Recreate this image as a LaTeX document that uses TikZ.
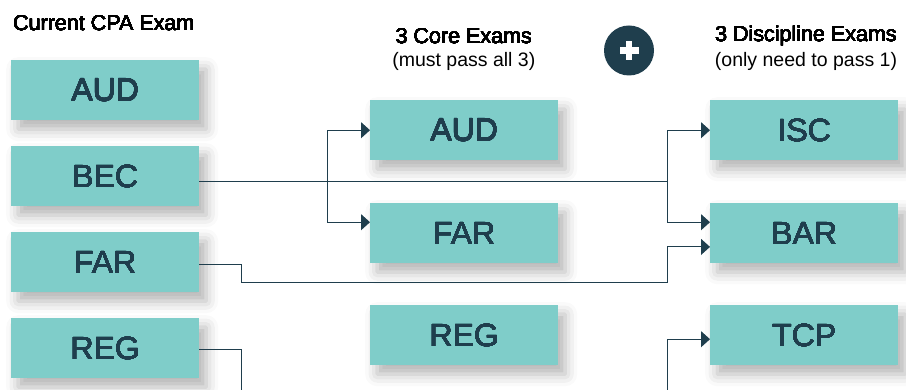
\documentclass[tikz,border=0pt]{standalone}
\usepackage{fontspec}
\setmainfont{Liberation Sans}
\usepackage[copies]{contour}
\contournumber{24}
\usetikzlibrary{arrows.meta,shadows.blur}
\definecolor{tealbox}{HTML}{7FCDC9}
\definecolor{ink}{HTML}{1F3E4D}
\newcommand{\boxlbl}[1]{\contourlength{0.12pt}\contour{ink}{#1}}
\newcommand{\headlbl}[1]{\contourlength{0.08pt}\contour{black}{#1}}
\begin{document}
\begin{tikzpicture}[x=1pt,y=-1pt,
  exambox/.style={fill=tealbox, minimum width=188pt, minimum height=60pt, inner sep=0pt,
    anchor=north west, font=\fontsize{32}{32}\selectfont, text=ink,
    blur shadow={shadow xshift=7pt, shadow yshift=-9pt, shadow blur radius=12pt, shadow opacity=30}},
  link/.style={draw=ink, line width=1pt},
  arr/.style={link, -{Triangle[length=9pt,width=16pt]}},
  heading/.style={font=\fontsize{21.5}{24}\selectfont, text=black},
  subhead/.style={font=\fontsize{19.5}{22}\selectfont, text=black}]
\useasboundingbox (0,0) rectangle (906,390);

% headings
\node[heading, anchor=west, inner sep=0pt] (hCur) at (13,23) {\headlbl{Current CPA Exam}};
\node[heading, inner sep=0pt] (hCore) at (463.8,36) {\headlbl{3 Core Exams}};
\node[subhead, inner sep=0pt] (hCoreSub) at (463.8,61) {(must pass all 3)};
\node[heading, inner sep=0pt] (hDisc) at (806,36) {\headlbl{3 Discipline Exams}};
\node[subhead, inner sep=0pt] (hDiscSub) at (806,61) {(only need to pass 1)};

% plus sign
\node[circle, fill=ink, minimum size=50pt, inner sep=0pt] (plus) at (629,50.5) {};
\fill[white] ([xshift=-9.5pt,yshift=-3.2pt]plus.center) rectangle ([xshift=9.5pt,yshift=3.2pt]plus.center);
\fill[white] ([xshift=-3.2pt,yshift=-9.5pt]plus.center) rectangle ([xshift=3.2pt,yshift=9.5pt]plus.center);

% current exams
\node[exambox] (cAUD) at (11,60) {\boxlbl{AUD}};
\node[exambox] (cBEC) at (11,146) {\boxlbl{BEC}};
\node[exambox] (cFAR) at (11,232) {\boxlbl{FAR}};
\node[exambox] (cREG) at (11,318) {\boxlbl{REG}};

% core exams
\node[exambox] (mAUD) at (370,100) {\boxlbl{AUD}};
\node[exambox] (mFAR) at (370,203) {\boxlbl{FAR}};
\node[exambox] (mREG) at (370,305) {\boxlbl{REG}};

% discipline exams
\node[exambox] (rISC) at (710,100) {\boxlbl{ISC}};
\node[exambox] (rBAR) at (710,203) {\boxlbl{BAR}};
\node[exambox] (rTCP) at (710,305) {\boxlbl{TCP}};

% routing coordinates
\coordinate (mx) at (327.3,0);
\coordinate (rx) at (667.7,0);
\coordinate (lx) at (241,0);
\coordinate (lowY) at (0,282.7);
\coordinate (bot) at (0,392);
\coordinate (becOut) at ([yshift=-5pt]cBEC.east);
\coordinate (farOut) at ([yshift=-2pt]cFAR.east);
\coordinate (regOut) at ([yshift=-1.3pt]cREG.east);
\coordinate (mFarIn) at ([yshift=11pt]mFAR.west);
\coordinate (barA) at ([yshift=11pt]rBAR.west);
\coordinate (barB) at ([yshift=-13.7pt]rBAR.west);
\coordinate (tcpIn) at ([yshift=-4pt]rTCP.west);

% connectors
\draw[arr] (mx |- mAUD.west) -- (mAUD.west);
\draw[arr] (mx |- mAUD.west) -- (mx |- mFarIn) -- (mFarIn);
\draw[link] (becOut) -- (rx |- becOut);
\draw[arr] (rx |- rISC.west) -- (rISC.west);
\draw[arr] (rx |- rISC.west) -- (rx |- barA) -- (barA);
\draw[arr] (farOut) -- (lx |- farOut) -- (lx |- lowY) -- (rx |- lowY) -- (rx |- barB) -- (barB);
\draw[link] (regOut) -- (lx |- regOut) -- (lx |- bot);
\draw[arr] (rx |- bot) -- (rx |- tcpIn) -- (tcpIn);
\end{tikzpicture}
\end{document}
